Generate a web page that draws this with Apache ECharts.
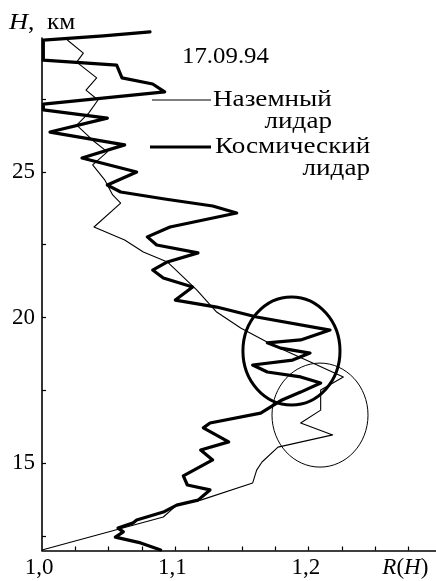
<!DOCTYPE html>
<html>
<head>
<meta charset="utf-8">
<script src="https://cdn.jsdelivr.net/npm/echarts@6/dist/echarts.min.js"></script>
<style>
  html, body { margin: 0; padding: 0; background: #fff; }
  #chart { width: 436px; height: 581px; }
</style>
</head>
<body>
<div id="chart"></div>
<script>
// Ground-based lidar profile: backscatter ratio R(H) versus altitude H (km)
const groundR = [1.019, 1.031, 1.026, 1.041, 1.033, 1.042, 1.035, 1.026, 1.038, 1.049,
                 1.038, 1.047, 1.053, 1.059, 1.039, 1.062, 1.076, 1.094, 1.106, 1.116,
                 1.131, 1.149, 1.173, 1.203, 1.226, 1.209, 1.209, 1.194, 1.218, 1.177,
                 1.165, 1.161, 1.158, 1.119, 1.101, 1.091, 1.000];
const groundH = [29.53, 29.08, 28.77, 28.23, 27.81, 27.47, 27.02, 26.61, 26.09, 25.69,
                 25.24, 24.73, 24.21, 23.93, 23.11, 22.66, 22.25, 21.91, 21.39, 20.95,
                 20.19, 19.64, 19.06, 18.44, 17.96, 17.51, 16.82, 16.38, 15.97, 15.55,
                 15.04, 14.76, 14.32, 13.73, 13.56, 13.15, 12.02];

// Space-borne lidar profile
const spaceR = [1.081, 1.046, 1.001, 1.001, 1.056, 1.060, 1.083, 1.092, 1.001, 1.001,
                1.049, 1.006, 1.062, 1.030, 1.071, 1.049, 1.059, 1.092, 1.128, 1.146,
                1.096, 1.079, 1.086, 1.117, 1.094, 1.083, 1.091, 1.113, 1.100, 1.131,
                1.161, 1.216, 1.194, 1.169, 1.179, 1.201, 1.188, 1.158, 1.169, 1.194,
                1.209, 1.194, 1.180, 1.164, 1.126, 1.121, 1.140, 1.119, 1.128, 1.106,
                1.109, 1.126, 1.117, 1.101, 1.091, 1.071, 1.068, 1.057, 1.061, 1.055,
                1.074, 1.089];
const spaceH = [29.81, 29.67, 29.53, 28.84, 28.67, 28.23, 28.02, 27.75, 27.33, 27.13,
                26.85, 26.37, 25.93, 25.48, 25.00, 24.55, 24.31, 24.07, 23.83, 23.59,
                23.11, 22.77, 22.49, 22.22, 21.91, 21.63, 21.36, 21.05, 20.60, 20.36,
                20.02, 19.57, 19.23, 19.13, 18.95, 18.78, 18.54, 18.37, 18.13, 17.96,
                17.75, 17.44, 17.17, 16.72, 16.38, 16.21, 15.73, 15.45, 15.11, 14.56,
                14.25, 14.08, 13.73, 13.56, 13.32, 13.05, 12.94, 12.77, 12.64, 12.46,
                12.26, 12.02];

// Axis ticks and labels
const xTicks = [1.025, 1.05, 1.075, 1.1, 1.125, 1.15, 1.175, 1.2, 1.225, 1.25, 1.275];
const xLabels = [1.0, 1.1, 1.2];
const xTitleAt = 1.2725;
const yTicks = [12.5, 15, 17.5, 20, 22.5, 25, 27.5];
const yLabels = [15, 20, 25];

// Highlighted layer regions: [centre R, centre H, half-width R, half-height H]
const layerRegionSpace = [1.1871, 18.85, 0.0364, 1.855];
const layerRegionGround = [1.2085, 16.65, 0.036, 1.786];

const dateText = '17.09.94';
const groundName = ['Наземный', 'лидар'];
const spaceName = ['Космический', 'лидар'];

const zip = (xs, ys) => xs.map((x, i) => [x, ys[i]]);
const serif = "'Liberation Serif', 'Times New Roman', serif";
const FS = 23;
const WIDE = 1.18;   // horizontal stretch of the annotation lettering

const chart = echarts.init(document.getElementById('chart'), null, { renderer: 'canvas' });

function ellipseItem(width) {
  return function (params, api) {
    const c = api.coord([api.value(0), api.value(1)]);
    const rx = api.size([api.value(2), 0])[0];
    const ry = api.size([0, api.value(3)])[1];
    return {
      type: 'ellipse',
      shape: { cx: c[0], cy: c[1], rx: rx, ry: ry },
      style: { fill: null, stroke: '#000', lineWidth: width }
    };
  };
}

function label(text, x, y, align, sx) {
  return {
    type: 'text', x: x, y: y, scaleX: sx,
    style: { text: text, font: `${FS}px ${serif}`, fill: '#000', align: align, verticalAlign: 'middle' }
  };
}

chart.setOption({
  backgroundColor: '#fff',
  animation: false,
  grid: { left: 42, right: 0, top: 38, bottom: 30.5, containLabel: false },
  xAxis: {
    type: 'value', min: 1.0, max: 1.2955,
    axisLine: { show: true, lineStyle: { color: '#000', width: 1.6 } },
    axisTick: { show: true, inside: true, length: 4, customValues: xTicks,
                lineStyle: { color: '#000', width: 1.2 } },
    splitLine: { show: false },
    axisLabel: {
      customValues: xLabels.concat([xTitleAt]),
      margin: 6,
      color: '#000', fontFamily: serif, fontSize: FS,
      formatter: v => (v > 1.25 ? '{it|R}(' + '{it|H})' : v.toFixed(1).replace('.', ',') + ' '),
      rich: { it: { fontStyle: 'italic', fontFamily: serif, fontSize: FS, color: '#000' } }
    }
  },
  yAxis: {
    type: 'value', min: 12, max: 29.6,
    axisLine: { show: true, lineStyle: { color: '#000', width: 1.6 } },
    axisTick: { show: true, inside: true, length: 4, customValues: yTicks,
                lineStyle: { color: '#000', width: 1.2 } },
    splitLine: { show: false },
    axisLabel: { customValues: yLabels, margin: 7, color: '#000', fontFamily: serif, fontSize: FS }
  },
  series: [
    {
      name: groundName.join(' '), type: 'line', data: zip(groundR, groundH),
      showSymbol: false, clip: false,
      lineStyle: { color: '#000', width: 1.1, join: 'round' }
    },
    {
      name: spaceName.join(' '), type: 'line', data: zip(spaceR, spaceH),
      showSymbol: false, clip: false,
      lineStyle: { color: '#000', width: 3.2, join: 'round', cap: 'round' }
    },
    {
      type: 'custom', renderItem: ellipseItem(3), data: [layerRegionSpace],
      encode: { x: 0, y: 1 }, clip: false, silent: true
    },
    {
      type: 'custom', renderItem: ellipseItem(1), data: [layerRegionGround],
      encode: { x: 0, y: 1 }, clip: false, silent: true
    }
  ],
  graphic: [
    // axis title of the altitude scale
    { type: 'text', x: 9, y: 23, scaleX: 1.1,
      style: { text: '{it|H},  км', font: `${FS}px ${serif}`, fill: '#000', verticalAlign: 'middle',
               rich: { it: { fontStyle: 'italic', fontFamily: serif, fontSize: FS + 1 } } } },
    label(dateText, 182, 57, 'left', 1.08),
    { type: 'line', shape: { x1: 152, y1: 100, x2: 211, y2: 100 },
      style: { stroke: '#000', lineWidth: 1.1 } },
    label(groundName[0], 213, 100, 'left', WIDE),
    label(groundName[1], 332, 122, 'right', WIDE),
    { type: 'line', shape: { x1: 150, y1: 147, x2: 211, y2: 147 },
      style: { stroke: '#000', lineWidth: 3.2 } },
    label(spaceName[0], 215, 147, 'left', WIDE),
    label(spaceName[1], 370, 169, 'right', WIDE)
  ]
});
</script>
</body>
</html>
